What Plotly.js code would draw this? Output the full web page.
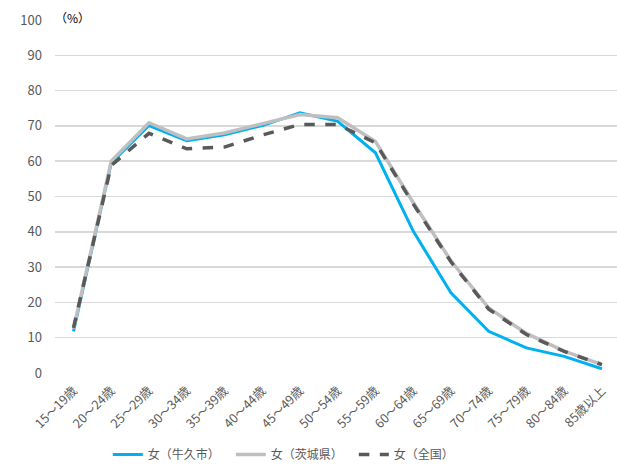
<!DOCTYPE html>
<html>
<head>
<meta charset="utf-8">
<script src="https://cdn.plot.ly/plotly-3.0.1.min.js"></script>
<style>
  html, body { margin: 0; padding: 0; background: #fff; }
  #chart { width: 617px; height: 469px; }
</style>
</head>
<body>
<div id="chart"></div>
<script>
// 年齢階級
const ageGroups = ["15～19歳", "20～24歳", "25～29歳", "30～34歳", "35～39歳", "40～44歳", "45～49歳",
  "50～54歳", "55～59歳", "60～64歳", "65～69歳", "70～74歳", "75～79歳", "80～84歳", "85歳以上"];

// 女性の労働力率（%）
const ushiku  = [11.8, 59.5, 70.1, 65.8, 67.5, 70.1, 73.7, 71.3, 62.4, 40.2, 22.7, 11.8, 7.1, 4.7, 1.2];
const ibaraki = [12.5, 60.0, 70.9, 66.3, 68.0, 70.7, 73.2, 72.3, 65.6, 48.3, 31.8, 18.4, 11.2, 6.2, 2.4];
const zenkoku = [12.8, 58.8, 67.9, 63.5, 64.0, 67.4, 70.4, 70.4, 65.2, 47.9, 31.5, 18.1, 10.9, 6.1, 2.4];

const seriesNames = ["女（牛久市）", "女（茨城県）", "女（全国）"];
const yTicks = [0, 10, 20, 30, 40, 50, 60, 70, 80, 90, 100];

const baseFont = "'Noto Sans CJK JP', 'Noto Sans', sans-serif";

const traces = [
  {
    x: ageGroups, y: ushiku, name: seriesNames[0], type: "scatter", mode: "lines",
    line: { color: "#00B0F0", width: 3 }
  },
  {
    x: ageGroups, y: ibaraki, name: seriesNames[1], type: "scatter", mode: "lines",
    line: { color: "#BFBFBF", width: 3.5 }
  },
  {
    x: ageGroups, y: zenkoku, name: seriesNames[2], type: "scatter", mode: "lines",
    line: { color: "#595959", width: 3.5, dash: "dash" }
  }
];

const layout = {
  width: 617, height: 469,
  margin: { l: 55, r: 0, t: 20, b: 96 },
  paper_bgcolor: "#fff", plot_bgcolor: "#fff",
  font: { family: baseFont, color: "#595959", size: 12 },
  showlegend: true,
  legend: {
    orientation: "h", xref: "paper", x: 0.094, xanchor: "left",
    yref: "container", y: -0.03, yanchor: "bottom",
    font: { size: 12, color: "#595959" }, traceorder: "normal",
    entrywidth: 78, entrywidthmode: "pixels"
  },
  xaxis: {
    type: "category", range: [-0.49, 14.4], automargin: false,
    showgrid: false, zeroline: false, showline: false,
    tickangle: -45, ticks: "", ticklabelstandoff: 7,
    tickfont: { size: 12.5, color: "#595959" }
  },
  yaxis: {
    range: [0, 100], tickvals: yTicks, ticktext: yTicks.map(String), automargin: false,
    showgrid: true, gridcolor: "#D9D9D9", gridwidth: 1.5,
    zeroline: false, showline: false, ticks: "", ticklabelstandoff: 12,
    tickfont: { size: 13, color: "#595959" }
  },
  annotations: [
    {
      text: "（%）", xref: "paper", yref: "paper", x: 0.0, y: 1.0,
      xanchor: "left", yanchor: "bottom", showarrow: false,
      font: { size: 12, color: "#000" }, yshift: -8, xshift: -2
    }
  ]
};

Plotly.newPlot("chart", traces, layout, { displayModeBar: false, staticPlot: true });
</script>
</body>
</html>
